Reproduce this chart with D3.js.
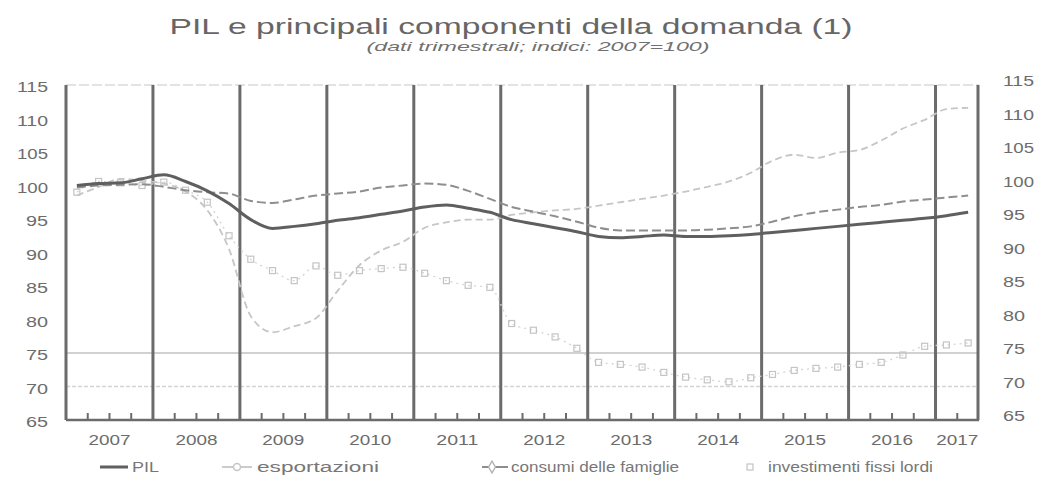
<!DOCTYPE html>
<html>
<head>
<meta charset="utf-8">
<script src="https://cdn.jsdelivr.net/npm/d3@7"></script>
<style>
  body { margin: 0; background: #fff; }
  svg { font-family: "Liberation Sans", Arial, sans-serif; }
</style>
</head>
<body>
<svg id="chart" width="1042" height="483"></svg>
<script>
// Dati trimestrali, indici 2007=100
const years = ["2007", "2008", "2009", "2010", "2011", "2012", "2013", "2014", "2015", "2016", "2017"];
const quarterNames = ["T1", "T2", "T3", "T4"];
const quarters = years.flatMap(y => quarterNames.map(q => y + q)).slice(0, 42);

const pil = [
  100.0, 100.3, 100.4, 101.0,
  101.6, 100.6, 99.2, 97.3,
  94.9, 93.6, 93.9, 94.3,
  94.8, 95.2, 95.7, 96.2,
  96.8, 97.1, 96.6, 96.0,
  94.9, 94.3, 93.7, 93.1,
  92.4, 92.2, 92.4, 92.6,
  92.4, 92.4, 92.5, 92.7,
  93.0, 93.3, 93.6, 93.9,
  94.2, 94.5, 94.8, 95.1,
  95.5, 96.0
];
const esportazioni = [
  98.5, 99.8, 101.0, 100.7,
  100.3, 99.1, 96.3, 90.5,
  80.5, 78.1, 79.0, 80.2,
  84.3, 88.1, 90.3, 91.6,
  93.7, 94.5, 94.9, 94.9,
  95.6, 96.0, 96.3, 96.5,
  97.0, 97.5, 98.0, 98.5,
  99.1, 99.8, 100.6, 101.9,
  103.7, 104.6, 104.1, 104.9,
  105.3, 106.7, 108.5, 109.8,
  111.4, 111.6
];
const consumi = [
  99.7, 100.0, 100.1, 100.2,
  99.8, 99.3, 99.0, 98.8,
  97.7, 97.4, 97.9, 98.5,
  98.8, 99.1, 99.7, 100.0,
  100.3, 100.1, 99.2, 98.0,
  96.8, 96.1, 95.4, 94.6,
  93.7, 93.3, 93.3, 93.3,
  93.3, 93.4, 93.6, 93.9,
  94.6, 95.4, 96.0, 96.4,
  96.8, 97.1, 97.6, 97.9,
  98.2, 98.5
];
const investimenti = [
  99.0, 100.6, 100.4, 100.0,
  100.5, 99.3, 97.5, 92.5,
  89.0, 87.3, 85.8, 88.0,
  86.6, 87.3, 87.6, 87.8,
  86.9, 85.8, 85.1, 84.8,
  79.4, 78.4, 77.4, 75.7,
  73.6, 73.3, 72.9, 72.1,
  71.4, 71.0, 70.7, 71.3,
  71.8, 72.4, 72.7, 72.9,
  73.3, 73.6, 74.7, 76.0,
  76.2, 76.5
];
const yTicks = [65, 70, 75, 80, 85, 90, 95, 100, 105, 110, 115];
const gridValues = [75, 70];

const svg = d3.select("#chart");

const x = d3.scaleBand().domain(quarters).range([66, 979]).padding(0);
const y = d3.scaleLinear().domain([65, 115]).range([420, 85]);
const bw = x.bandwidth();
const xc = q => x(q) + bw / 2;
const xEnd = x.range()[1];
const textGrey = "#6c6c6c";

// Title (the scanned original is stretched horizontally, hence textLength)
svg.append("text")
  .attr("x", 511).attr("y", 34)
  .attr("text-anchor", "middle")
  .attr("font-size", 22)
  .attr("fill", "#666")
  .attr("textLength", 683)
  .attr("lengthAdjust", "spacingAndGlyphs")
  .text("PIL e principali componenti della domanda (1)");

svg.append("text")
  .attr("x", 538).attr("y", 51)
  .attr("text-anchor", "middle")
  .attr("font-size", 13)
  .attr("font-style", "italic")
  .attr("fill", "#707070")
  .attr("textLength", 343)
  .attr("lengthAdjust", "spacingAndGlyphs")
  .text("(dati trimestrali; indici: 2007=100)");

// Gridlines
svg.append("line")
  .attr("x1", x.range()[0]).attr("x2", xEnd)
  .attr("y1", y(115)).attr("y2", y(115))
  .attr("stroke", "#c8c8c8").attr("stroke-width", 1.2)
  .attr("stroke-dasharray", "10,3");

svg.selectAll(".grid")
  .data(gridValues)
  .enter().append("line")
  .attr("class", "grid")
  .attr("x1", x.range()[0]).attr("x2", xEnd)
  .attr("y1", d => y(d)).attr("y2", d => y(d))
  .attr("stroke", (d, i) => i === 0 ? "#c2c2c2" : "#d4d4d4")
  .attr("stroke-width", 1.4)
  .attr("stroke-dasharray", (d, i) => i === 0 ? null : "4,2");

// Year separators
svg.selectAll(".yearline")
  .data(years)
  .enter().append("line")
  .attr("class", "yearline")
  .attr("x1", d => x(d + "T1")).attr("x2", d => x(d + "T1"))
  .attr("y1", y(115)).attr("y2", y(65))
  .attr("stroke", "#6b6b6b").attr("stroke-width", 3);

svg.append("line")
  .attr("x1", xEnd - 1).attr("x2", xEnd - 1)
  .attr("y1", y(115)).attr("y2", y(65))
  .attr("stroke", "#6b6b6b").attr("stroke-width", 3);

// Bottom axis line and quarter ticks
svg.append("line")
  .attr("x1", x.range()[0]).attr("x2", xEnd)
  .attr("y1", y(65)).attr("y2", y(65))
  .attr("stroke", "#6b6b6b").attr("stroke-width", 2.5);

svg.selectAll(".qtick")
  .data(quarters.filter(q => !q.endsWith("T1")))
  .enter().append("line")
  .attr("class", "qtick")
  .attr("x1", d => x(d)).attr("x2", d => x(d))
  .attr("y1", y(65)).attr("y2", y(65) - 7)
  .attr("stroke", "#6b6b6b").attr("stroke-width", 2);

// Year labels (centred in each year)
svg.selectAll(".ylab")
  .data(years)
  .enter().append("text")
  .attr("class", "ylab")
  .attr("x", d => {
    const qs = quarters.filter(q => q.startsWith(d));
    return (x(qs[0]) + x(qs[qs.length - 1]) + bw) / 2;
  })
  .attr("y", 445)
  .attr("text-anchor", "middle")
  .attr("font-size", 15)
  .attr("fill", textGrey)
  .attr("textLength", 42)
  .attr("lengthAdjust", "spacingAndGlyphs")
  .text(d => d);

// Y axes
const leftAxis = svg.append("g")
  .attr("transform", "translate(50,2)")
  .call(d3.axisLeft(y).tickValues(yTicks).tickSize(0).tickPadding(2));
const rightAxis = svg.append("g")
  .attr("transform", "translate(1001,-4)")
  .call(d3.axisRight(y).tickValues(yTicks).tickSize(0).tickPadding(2));
[leftAxis, rightAxis].forEach(a => {
  a.select(".domain").remove();
  a.selectAll("text")
    .attr("font-size", 15).attr("fill", textGrey)
    .attr("font-family", "\"Liberation Sans\", Arial, sans-serif")
    .attr("textLength", d => d >= 100 ? 31 : 22)
    .attr("lengthAdjust", "spacingAndGlyphs");
});

// Series
const line = d3.line()
  .x((d, i) => xc(quarters[i]))
  .y(d => y(d))
  .curve(d3.curveMonotoneX);

// investimenti fissi lordi: faint dotted line + hollow markers
svg.append("path")
  .datum(investimenti)
  .attr("fill", "none")
  .attr("stroke", "#d4d4d4")
  .attr("stroke-width", 1.3)
  .attr("stroke-dasharray", "2,4")
  .attr("d", line);

svg.selectAll(".inv")
  .data(investimenti)
  .enter().append("rect")
  .attr("class", "inv")
  .attr("x", (d, i) => xc(quarters[i]) - 3)
  .attr("y", d => y(d) - 3)
  .attr("width", 6).attr("height", 6)
  .attr("fill", "none")
  .attr("stroke", "#c4c4c4")
  .attr("stroke-width", 1.2);

// esportazioni: light dashed
svg.append("path")
  .datum(esportazioni)
  .attr("fill", "none")
  .attr("stroke", "#c6c6c6")
  .attr("stroke-width", 1.8)
  .attr("stroke-dasharray", "7,4")
  .attr("d", line);

// consumi delle famiglie: medium dashed
svg.append("path")
  .datum(consumi)
  .attr("fill", "none")
  .attr("stroke", "#8e8e8e")
  .attr("stroke-width", 2)
  .attr("stroke-dasharray", "9,4")
  .attr("d", line);

// PIL: solid dark
svg.append("path")
  .datum(pil)
  .attr("fill", "none")
  .attr("stroke", "#5f5f5f")
  .attr("stroke-width", 3)
  .attr("d", line);

// Legend
const ly = 472;
const legend = svg.append("g");

legend.append("line")
  .attr("x1", 100).attr("x2", 128).attr("y1", ly - 5).attr("y2", ly - 5)
  .attr("stroke", "#5f5f5f").attr("stroke-width", 3);
legend.append("text").attr("x", 132).attr("y", ly)
  .attr("textLength", 27).text("PIL");

legend.append("line")
  .attr("x1", 222).attr("x2", 252).attr("y1", ly - 5).attr("y2", ly - 5)
  .attr("stroke", "#c6c6c6").attr("stroke-width", 1.8);
legend.append("circle")
  .attr("cx", 237).attr("cy", ly - 5).attr("r", 3.5)
  .attr("fill", "#fff").attr("stroke", "#c6c6c6").attr("stroke-width", 1.5);
legend.append("text").attr("x", 257).attr("y", ly)
  .attr("textLength", 122).text("esportazioni");

legend.append("line")
  .attr("x1", 482).attr("x2", 508).attr("y1", ly - 5).attr("y2", ly - 5)
  .attr("stroke", "#8e8e8e").attr("stroke-width", 2);
legend.append("path")
  .attr("d", d3.symbol(d3.symbolDiamond, 40)())
  .attr("transform", `translate(492,${ly - 5})`)
  .attr("fill", "#fff").attr("stroke", "#b0b0b0").attr("stroke-width", 1.3);
legend.append("text").attr("x", 511).attr("y", ly)
  .attr("textLength", 168).text("consumi delle famiglie");

legend.append("rect")
  .attr("x", 747).attr("y", ly - 8).attr("width", 6).attr("height", 6)
  .attr("fill", "none").attr("stroke", "#c4c4c4").attr("stroke-width", 1.2);
legend.append("text").attr("x", 768).attr("y", ly)
  .attr("textLength", 165).text("investimenti fissi lordi");

legend.selectAll("text")
  .attr("font-size", 14).attr("fill", "#777")
  .attr("lengthAdjust", "spacingAndGlyphs");
</script>
</body>
</html>
